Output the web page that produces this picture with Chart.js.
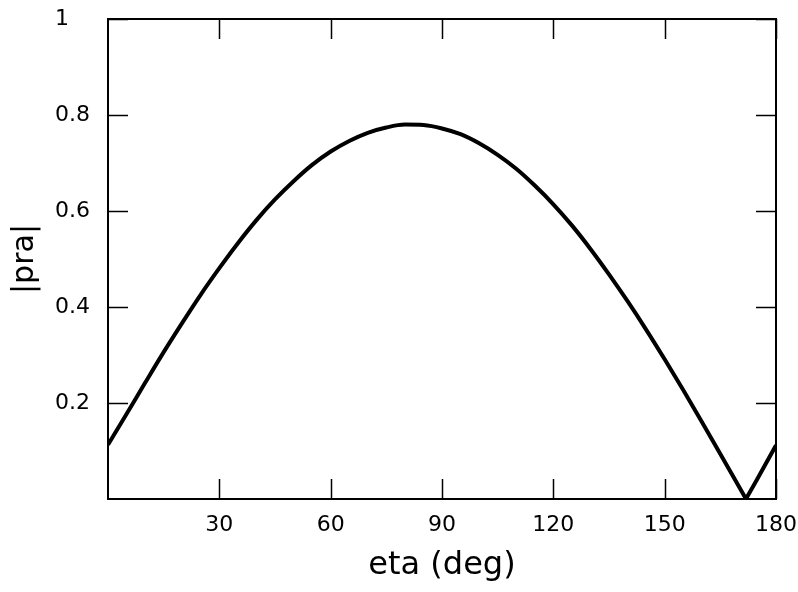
<!DOCTYPE html>
<html>
<head>
<meta charset="utf-8">
<script src="https://cdn.jsdelivr.net/npm/chart.js@4.4.0/dist/chart.umd.min.js"></script>
<style>
  html, body { margin: 0; padding: 0; background: #fff; }
  #wrap { width: 798px; height: 592px; }
</style>
</head>
<body>
<div id="wrap"><canvas id="praChart"></canvas></div>
<script>
// |pra| against eta, main lobe up to the zero near 172 deg
const etaMain = [0, 5, 10, 15, 20, 25, 30, 35, 40, 45, 50, 55, 60, 65, 70, 75, 80, 85, 90,
                 95, 100, 105, 110, 115, 120, 125, 130, 135, 140, 145, 150, 155, 160, 165, 170, 171.9];
const praMain = [0.113, 0.177, 0.242, 0.306, 0.367, 0.426, 0.481, 0.533, 0.581, 0.624, 0.662,
                 0.696, 0.724, 0.746, 0.763, 0.774, 0.780, 0.779, 0.772, 0.760, 0.741, 0.717,
                 0.688, 0.653, 0.614, 0.570, 0.521, 0.468, 0.412, 0.353, 0.291, 0.227, 0.161,
                 0.094, 0.026, 0];
// rise after the zero
const etaTail = [171.9, 175, 180];
const praTail = [0, 0.042, 0.112];

const xTicks = [30, 60, 90, 120, 150, 180];
const yTicks = [0.2, 0.4, 0.6, 0.8, 1];

const FONT = "'DejaVu Sans', 'Liberation Sans', sans-serif";

function toPoints(xs, ys) {
    return xs.map((x, i) => ({ x: x, y: ys[i] }));
}

// frame on all four sides with inward major ticks
const framePlugin = {
    id: "frame",
    afterDraw(chart) {
        const { ctx, chartArea: a, scales } = chart;
        const len = 20;
        ctx.save();
        ctx.strokeStyle = "#000";
        ctx.lineWidth = 1.5;
        ctx.beginPath();
        xTicks.forEach((v) => {
            const px = Math.round(scales.x.getPixelForValue(v)) + 0.5;
            ctx.moveTo(px, a.bottom);
            ctx.lineTo(px, a.bottom - len);
            ctx.moveTo(px, a.top);
            ctx.lineTo(px, a.top + len);
        });
        yTicks.forEach((v) => {
            const py = Math.round(scales.y.getPixelForValue(v)) + 0.5;
            ctx.moveTo(a.left, py);
            ctx.lineTo(a.left + len, py);
            ctx.moveTo(a.right, py);
            ctx.lineTo(a.right - len, py);
        });
        ctx.stroke();
        ctx.lineWidth = 2;
        ctx.strokeRect(a.left, a.top, a.right - a.left, a.bottom - a.top);
        ctx.restore();
    },
};

const ctx = document.getElementById("praChart").getContext("2d");
new Chart(ctx, {
    type: "line",
    data: {
        datasets: [
            {
                data: toPoints(etaMain, praMain),
                borderColor: "#000",
                borderWidth: 4,
                pointRadius: 0,
                cubicInterpolationMode: "monotone",
                fill: false,
            },
            {
                data: toPoints(etaTail, praTail),
                borderColor: "#000",
                borderWidth: 4,
                pointRadius: 0,
                tension: 0,
                fill: false,
            },
        ],
    },
    options: {
        responsive: true,
        maintainAspectRatio: false,
        animation: false,
        layout: {
            padding: { left: 55, right: 22, top: 19, bottom: 0 },
        },
        plugins: {
            legend: { display: false },
            tooltip: { enabled: false },
        },
        scales: {
            x: {
                type: "linear",
                min: 0,
                max: 180,
                afterFit: (scale) => {
                    scale.height = 93;
                    scale.paddingLeft = 0;
                    scale.paddingRight = 0;
                },
                afterBuildTicks: (scale) => {
                    scale.ticks = [0].concat(xTicks).map((v) => ({ value: v }));
                },
                grid: { display: false, drawTicks: false },
                border: { display: false },
                ticks: {
                    color: "#000",
                    padding: 13,
                    maxRotation: 0,
                    autoSkip: false,
                    font: { family: FONT, size: 22 },
                    callback: (v) => (v === 0 ? "" : String(v)),
                },
                title: {
                    display: true,
                    text: "eta (deg)",
                    color: "#000",
                    padding: { top: 0, bottom: 7 },
                    font: { family: FONT, size: 32 },
                },
            },
            y: {
                type: "linear",
                min: 0,
                max: 1,
                afterFit: (scale) => {
                    scale.width = 53;
                    scale.paddingTop = 0;
                    scale.paddingBottom = 0;
                },
                afterBuildTicks: (scale) => {
                    scale.ticks = [0].concat(yTicks).map((v) => ({ value: v }));
                },
                grid: { display: false, drawTicks: false },
                border: { display: false },
                ticks: {
                    color: "#000",
                    crossAlign: "far",
                    autoSkip: false,
                    font: { family: FONT, size: 22 },
                    callback: (v) => (v === 0 ? "" : String(v)),
                },
                title: {
                    display: true,
                    text: "|pra|",
                    color: "#000",
                    padding: { top: -48, bottom: 0 },
                    font: { family: FONT, size: 30 },
                },
            },
        },
    },
    plugins: [framePlugin],
});
</script>
</body>
</html>
